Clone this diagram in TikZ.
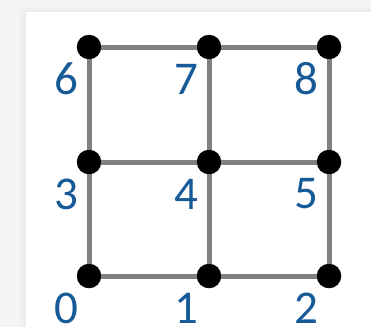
\documentclass[tikz,border=0pt]{standalone}
\usepackage{fontspec}
\setmainfont{Carlito}
\usetikzlibrary{positioning}
\definecolor{labelblue}{RGB}{22,90,152}
\definecolor{edgegray}{RGB}{128,128,128}

\begin{document}
\begin{tikzpicture}[x=1pt,y=-1pt,
    vtx/.style={circle,fill=black,inner sep=0pt,minimum size=24.5pt},
    lbl/.style={text=labelblue,font=\fontsize{47}{54}\selectfont,inner sep=0pt},
    link/.style={draw=edgegray,line width=5pt}]
        \useasboundingbox (0,0) rectangle (371,327);
        % Page and panel
        \fill[gray!9] (0,0) rectangle (371,327);
        \fill[gray!12] (20,7) rectangle (371,327);
        \fill[gray!15] (23,10) rectangle (371,327);
        \fill[white] (26,12) rectangle (371,327);
        % Vertices
        \foreach \i/\x/\y in {0/89/276, 1/209/276, 2/329/276,
                              3/89/162, 4/209/162, 5/329/162,
                              6/89/47, 7/209/47, 8/329/47} {
            \node[vtx] (v\i) at (\x,\y) {};
            \node[lbl] (l\i) at (\x-23,\y+32) {\i};
          }
        % Edges
        \foreach \a/\b in {0/1, 1/2, 3/4, 4/5, 6/7, 7/8,
                           0/3, 3/6, 1/4, 4/7, 2/5, 5/8} {
            \draw[link] (v\a) -- (v\b);
          }
      \end{tikzpicture}
\end{document}
